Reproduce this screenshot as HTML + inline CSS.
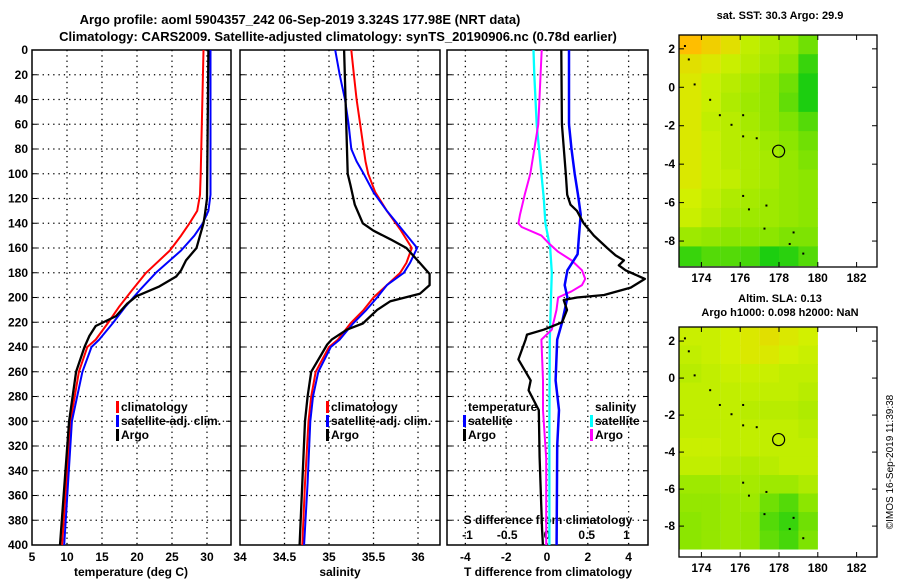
<!DOCTYPE html>
<html><head><meta charset="utf-8"><style>
html,body{margin:0;padding:0;background:#fff;}
svg{display:block;font-family:"Liberation Sans",sans-serif;font-weight:bold;}
</style></head><body>
<svg id="c" width="900" height="580" viewBox="0 0 900 580" xmlns="http://www.w3.org/2000/svg">
<text x="300" y="24" font-size="13" text-anchor="middle">Argo profile: aoml 5904357_242 06-Sep-2019 3.324S 177.98E (NRT data)</text>
<text x="338" y="41" font-size="13" text-anchor="middle">Climatology: CARS2009. Satellite-adjusted climatology: synTS_20190906.nc (0.78d earlier)</text>
<text x="780" y="19" font-size="11" text-anchor="middle">sat. SST: 30.3 Argo: 29.9</text>
<text x="780" y="302" font-size="11" text-anchor="middle">Altim. SLA: 0.13</text>
<text x="780" y="316" font-size="11" text-anchor="middle">Argo h1000: 0.098 h2000: NaN</text>
<text transform="translate(893,462) rotate(-90)" font-size="10" font-weight="normal" text-anchor="middle">©IMOS 16-Sep-2019 11:39:38</text>
</svg>
<script>
// ---- data ----
const depthTicks=[0,20,40,60,80,100,120,140,160,180,200,220,240,260,280,300,320,340,360,380,400];
const tDepth=[0,100,117,130,140,150,162,180,194,207,221,234,240,260,300,400];
const tClim=[29.5,29.1,29.0,28.6,27.5,26.3,24.7,21.3,19.3,17.5,15.8,14.1,12.9,11.7,10.5,9.3];
const tSat=[30.5,30.5,30.5,30.2,29.4,28.2,26.3,22.7,20.4,18.4,16.5,14.6,13.5,12.2,10.7,9.6];
const tArgoDepth=[0,120,133,140,150,160,170,178,183,191,199,205,215,223,231,240,260,300,400];
const tArgo=[30.2,30.0,29.7,29.5,29.0,28.5,27.0,26.3,25.6,23.2,19.9,18.6,17.0,14.1,13.2,12.5,11.3,10.3,9.0];
const sDepth=[0,20,40,60,80,90,100,115,130,145,160,172,180,190,200,210,221,234,240,260,280,300,350,400];
const sClim=[35.25,35.28,35.31,35.35,35.39,35.41,35.44,35.52,35.65,35.80,35.93,35.87,35.80,35.65,35.50,35.39,35.24,35.10,35.0,34.85,34.8,34.77,34.73,34.70];
const sSat=[35.07,35.12,35.18,35.22,35.25,35.31,35.39,35.50,35.65,35.82,35.99,35.91,35.84,35.65,35.54,35.42,35.27,35.12,35.02,34.88,34.82,34.79,34.76,34.72];
const sArgoDepth=[0,100,109,125,140,146,153,160,172,181,190,197,203,210,221,226,234,238,260,280,300,350,400];
const sArgo=[35.17,35.21,35.24,35.29,35.38,35.50,35.69,35.87,36.02,36.13,36.13,36.02,35.69,35.54,35.38,35.20,35.03,34.98,34.8,34.76,34.73,34.70,34.67];
const dTDepth=[0,60,100,117,125,130,140,150,160,166,170,174,178,185,192,198,200,202,210,220,226,230,234,250,267,275,291,329,388,400];
const dTArgo=[0.7,0.73,0.92,0.99,1.15,1.47,1.8,2.3,2.95,3.36,3.77,3.52,3.85,4.8,4.1,2.8,1.47,0.82,0.98,0.74,-0.16,-0.98,-1.05,-1.4,-0.8,-0.9,-0.4,-0.36,-0.24,-0.2];
const dTSatDepth=[0,60,80,100,117,133,150,165,178,190,200,220,234,267,291,320,400];
const dTSat=[1.08,1.08,1.2,1.36,1.52,1.65,1.57,1.5,1.0,0.87,1.0,0.74,0.5,0.42,0.59,0.5,0.47];
const dSDepth=[0,60,100,117,133,140,143,150,156,163,170,178,185,190,195,200,210,226,234,267,291,330,400];
const dSArgo=[-0.067,-0.11,-0.21,-0.28,-0.34,-0.36,-0.32,-0.07,0.02,0.14,0.31,0.44,0.48,0.44,0.31,0.14,0.12,0.06,-0.07,-0.05,-0.05,-0.01,-0.01];
const dSSatDepth=[0,20,60,100,120,140,160,180,200,234,300,400];
const dSSat=[-0.17,-0.16,-0.13,-0.07,-0.04,-0.02,0.04,0.06,0.05,0.035,0.03,0.03];
const sstGrid=[
[1.2,1.1,1.0,0.8,0.7,0.6,0.4],[1.0,0.95,0.85,0.75,0.65,0.5,0.2],[0.95,0.85,0.75,0.65,0.55,0.4,0.1],
[0.95,0.85,0.7,0.6,0.55,0.35,0.1],[0.95,0.8,0.75,0.65,0.55,0.45,0.3],[0.95,0.85,0.75,0.7,0.6,0.5,0.4],
[0.95,0.85,0.75,0.7,0.65,0.55,0.45],[0.95,0.85,0.8,0.7,0.65,0.55,0.5],[0.9,0.8,0.7,0.65,0.6,0.55,0.5],
[0.85,0.75,0.65,0.6,0.6,0.55,0.5],[0.6,0.55,0.5,0.5,0.5,0.45,0.45],[0.2,0.3,0.3,0.25,0.1,0.15,0.3]];
const slaGrid=[
[0.85,0.85,0.9,0.95,1.0,0.95,0.9],[0.8,0.85,0.9,0.95,0.95,0.9,0.85],[0.75,0.8,0.85,0.85,0.85,0.8,0.8],
[0.8,0.8,0.8,0.8,0.8,0.8,0.75],[0.8,0.8,0.8,0.75,0.75,0.75,0.7],[0.8,0.8,0.8,0.8,0.8,0.8,0.75],
[0.85,0.85,0.8,0.8,0.8,0.8,0.8],[0.8,0.8,0.75,0.7,0.75,0.8,0.8],[0.6,0.6,0.65,0.65,0.6,0.6,0.7],
[0.55,0.55,0.6,0.6,0.4,0.3,0.5],[0.5,0.55,0.6,0.55,0.3,0.2,0.4],[0.5,0.55,0.6,0.55,0.35,0.25,0.45]];
const lonTicks=[174,176,178,180,182];
const latTicks=[2,0,-2,-4,-6,-8];
const argoLon=177.98, argoLat=-3.324;

// ---- helpers ----
const NS='http://www.w3.org/2000/svg';
const svg=document.getElementById('c');
function mk(tag,attrs,parent){const e=document.createElementNS(NS,tag);for(const k in attrs)e.setAttribute(k,attrs[k]);(parent||svg).appendChild(e);return e;}
const Y=d=>50+d*(495/400);
const P=[
 {x0:32,x1:231,v0:5,v1:33.43,name:'temperature'},
 {x0:240,x1:440,v0:34,v1:36.247,name:'salinity'},
 {x0:447,x1:648,v0:-4.9,v1:4.95,name:'t-diff'}];
const sx=(p,v)=>p.x0+(v-p.v0)/(p.v1-p.v0)*(p.x1-p.x0);
const sS=v=>547+v*79.5;

P.forEach((p,i)=>{
  const g=mk('g',{});
  
  
  depthTicks.forEach(d=>{
    if(d>0&&d<400){const l=mk('line',{x1:p.x0,x2:p.x1,y1:Y(d),y2:Y(d),stroke:'#000','stroke-width':1.3,'stroke-dasharray':'1.3 4'},g);
    }
    mk('line',{x1:p.x0,x2:p.x0+5,y1:Y(d),y2:Y(d),stroke:'#000'},g);
    mk('line',{x1:p.x1-5,x2:p.x1,y1:Y(d),y2:Y(d),stroke:'#000'},g);
  });
  const r=mk('rect',{x:p.x0,y:50,width:p.x1-p.x0,height:495,fill:'none',stroke:'#000','stroke-width':1.5},g);
  
});
depthTicks.forEach(d=>{const t=mk('text',{x:28,y:Y(d)+4,'font-size':12,'text-anchor':'end'});t.textContent=d;
 });

function vgrid(p,vals,labels,ly){vals.forEach((v,k)=>{const x=sx(p,v);
 if(x>p.x0+2&&x<p.x1-2){const l=mk('line',{x1:x,x2:x,y1:50,y2:545,stroke:'#000','stroke-width':1.3,'stroke-dasharray':'1.3 4'});
 }
 if(labels){const t=mk('text',{x:x,y:ly,'font-size':12,'text-anchor':'middle'});t.textContent=labels[k];
 }});}
vgrid(P[0],[5,10,15,20,25,30],['5','10','15','20','25','30'],561);
vgrid(P[1],[34,34.5,35,35.5,36],['34','34.5','35','35.5','36'],561);
vgrid(P[2],[-4,-2,0,2,4],['-4','-2','0','2','4'],561);
[[-1,'-1'],[-0.5,'-0.5'],[0,'0'],[0.5,'0.5'],[1,'1']].forEach(([v,s])=>{const t=mk('text',{x:sS(v),y:539,'font-size':12,'text-anchor':'middle'});t.textContent=s;
 });
[['temperature (deg C)',131,'temperature-axis-title'],['salinity',340,'salinity-axis-title'],['T difference from climatology',548,'t-diff-axis-title'],['S difference from climatology',548,'s-diff-axis-title']].forEach(([s,x,n],k)=>{
 const t=mk('text',{x:x,y:k==3?524:576,'font-size':12,'text-anchor':'middle'});t.textContent=s;
 });

function line(xs,ds,fx,col,w,name){const pts=xs.map((v,k)=>fx(v).toFixed(1)+','+Y(ds[k]).toFixed(1)).join(' ');
 const l=mk('polyline',{points:pts,fill:'none',stroke:col,'stroke-width':w,'stroke-linejoin':'round'});
 }
line(tClim,tDepth,v=>sx(P[0],v),'#f00',2,'temperature-climatology-line');
line(tSat,tDepth,v=>sx(P[0],v),'#00f',2,'temperature-satellite-line');
line(tArgo,tArgoDepth,v=>sx(P[0],v),'#000',2.3,'temperature-argo-line');
line(sClim,sDepth,v=>sx(P[1],v),'#f00',2,'salinity-climatology-line');
line(sSat,sDepth,v=>sx(P[1],v),'#00f',2,'salinity-satellite-line');
line(sArgo,sArgoDepth,v=>sx(P[1],v),'#000',2.3,'salinity-argo-line');
line(dSSat,dSSatDepth,sS,'#0ff',2.3,'s-diff-satellite-line');
line(dSArgo,dSDepth,sS,'#f0f',2,'s-diff-argo-line');
line(dTSat,dTSatDepth,v=>sx(P[2],v),'#00f',2.5,'t-diff-satellite-line');
line(dTArgo,dTDepth,v=>sx(P[2],v),'#000',2.3,'t-diff-argo-line');

function leg(x,y,col,txt,name){if(col){const r=mk('rect',{x:x,y:y-10,width:3,height:12,fill:col});
 }
 const t=mk('text',{x:x+5,y:y,'font-size':12});t.textContent=txt;
 }
leg(116,411,'#f00','climatology','legend-climatology');
leg(116,425,'#00f','satellite-adj. clim.','legend-satellite');
leg(116,439,'#000','Argo','legend-argo');
leg(326,411,'#f00','climatology','legend-sal-climatology');
leg(326,425,'#00f','satellite-adj. clim.','legend-sal-satellite');
leg(326,439,'#000','Argo','legend-sal-argo');
leg(463,411,null,'temperature','legend-temperature-heading');
leg(463,425,'#00f','satellite','legend-t-satellite');
leg(463,439,'#000','Argo','legend-t-argo');
leg(590,411,null,'salinity','legend-salinity-heading');
leg(590,425,'#0ff','satellite','legend-s-satellite');
leg(590,439,'#f0f','Argo','legend-s-argo');

// ---- maps ----
const stops=[[0,[0,200,20]],[0.5,[140,230,0]],[0.9,[210,240,0]],[1.2,[255,190,0]]];
function col(v){for(let k=1;k<stops.length;k++){if(v<=stops[k][0]||k==stops.length-1){const a=stops[k-1],b=stops[k];const t=Math.max(0,Math.min(1,(v-a[0])/(b[0]-a[0])));
 return 'rgb('+a[1].map((c,j)=>Math.round(c+(b[1][j]-c)*t)).join(',')+')';}}}
function map(grid,top,bot,latTop,latBot,name){
 const LX=lon=>682+(lon-173)*19.4;
 const LY=lat=>top+(latTop-lat)/(latTop-latBot)*(bot-top);
 const g=mk('g',{});
 grid.forEach((row,ri)=>row.forEach((v,ci)=>{const la=latTop-ri, lb=Math.max(latBot,latTop-ri-1);
  const c=mk('rect',{x:LX(173+ci)-(ci==0?3:0),y:LY(la),width:19.5+(ci==0?3:0),height:LY(lb)-LY(la)+0.5,fill:col(v)},g);
  }));
 const coast=[[173.1,2.2],[173.3,1.5],[173.6,0.2],[174.4,-0.6],[174.9,-1.4],[175.5,-1.9],[176.1,-1.4],[176.1,-2.5],[176.8,-2.6],[176.1,-5.6],[176.4,-6.3],[177.3,-6.1],[177.2,-7.3],[178.7,-7.5],[178.5,-8.1],[179.2,-8.6]];
 coast.forEach(([lo,la])=>{const d=mk('rect',{x:LX(lo),y:LY(la),width:2,height:2,fill:'#000'},g);
  });
 const ci=mk('circle',{cx:LX(argoLon),cy:LY(argoLat),r:6,fill:'none',stroke:'#000','stroke-width':1.2},g);
 
 const fr=mk('rect',{x:679,y:top,width:198,height:bot-top,fill:'none',stroke:'#000','stroke-width':1.3},g);
 
 lonTicks.forEach(lo=>{mk('line',{x1:LX(lo),x2:LX(lo),y1:top,y2:top+5,stroke:'#000'},g);mk('line',{x1:LX(lo),x2:LX(lo),y1:bot,y2:bot-5,stroke:'#000'},g);
  const t=mk('text',{x:LX(lo),y:bot+15,'font-size':12,'text-anchor':'middle'},g);t.textContent=lo;
  });
 latTicks.forEach(la=>{mk('line',{x1:679,x2:684,y1:LY(la),y2:LY(la),stroke:'#000'},g);mk('line',{x1:872,x2:877,y1:LY(la),y2:LY(la),stroke:'#000'},g);
  const t=mk('text',{x:675,y:LY(la)+4,'font-size':12,'text-anchor':'end'},g);t.textContent=la;
  });
}
map(sstGrid,35,267,2.72,-9.35,'sst-map');
map(slaGrid,327,557,2.76,-9.67,'sla-map');
</script>
</body></html>
